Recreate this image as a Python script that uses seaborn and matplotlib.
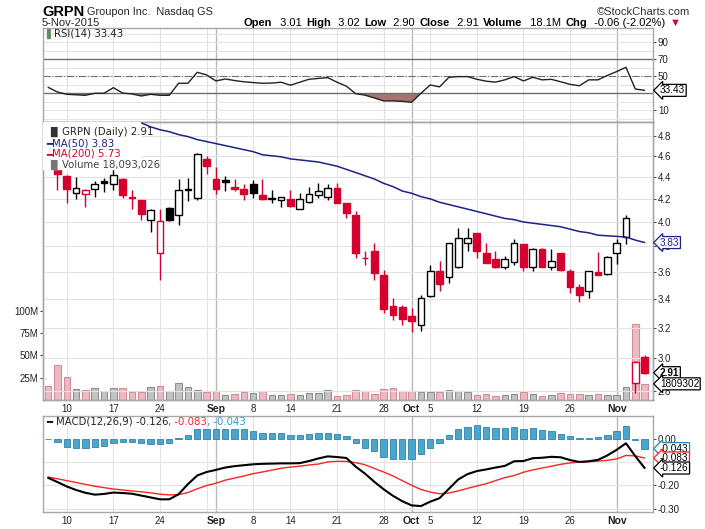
import numpy as np
import pandas as pd
import matplotlib
matplotlib.use('Agg')
import matplotlib.pyplot as plt
import matplotlib.transforms as mtrans
import matplotlib.ticker as mticker
from matplotlib.patches import Rectangle
import seaborn as sns

# trading days counted from Mon 10 Aug 2015 (= 0); -2 is 6 Aug, 62 is 5 Nov
days = list(range(-2, 63))

opens = [4.62, 4.48,
         4.41, 4.25, 4.245, 4.29, 4.36, 4.33, 4.38, 4.215, 4.19, 4.02,
         3.75, 4.12, 4.06, 4.28, 4.21, 4.57, 4.38, 4.37, 4.31, 4.29,
         4.33, 4.235, 4.20, 4.19, 4.20, 4.115, 4.17, 4.235, 4.215, 4.295,
         4.165, 4.06, 3.71, 3.765, 3.58, 3.35, 3.34, 3.28, 3.22, 3.42,
         3.605, 3.565, 3.635, 3.83, 3.905, 3.745, 3.70, 3.64, 3.675, 3.82,
         3.64, 3.78, 3.635, 3.75, 3.61, 3.49, 3.455, 3.60, 3.585, 3.75,
         3.875, 2.85, 3.01]
highs = [4.70, 4.49,
         4.42, 4.40, 4.285, 4.36, 4.39, 4.475, 4.39, 4.28, 4.19, 4.115,
         4.115, 4.13, 4.38, 4.39, 4.63, 4.60, 4.49, 4.41, 4.38, 4.33,
         4.37, 4.38, 4.28, 4.22, 4.28, 4.25, 4.31, 4.34, 4.33, 4.34,
         4.165, 4.09, 3.76, 3.83, 3.615, 3.41, 3.355, 3.335, 3.43, 3.65,
         3.68, 3.83, 3.95, 3.95, 3.905, 3.83, 3.765, 3.72, 3.86, 3.82,
         3.79, 3.785, 3.78, 3.75, 3.625, 3.51, 3.61, 3.755, 3.72, 3.86,
         4.06, 2.98, 3.02]
lows = [4.52, 4.28,
        4.16, 4.20, 4.13, 4.22, 4.265, 4.28, 4.21, 4.115, 4.02, 3.92,
        3.54, 4.01, 3.975, 4.18, 4.19, 4.425, 4.24, 4.27, 4.27, 4.19,
        4.21, 4.19, 4.165, 4.13, 4.13, 4.11, 4.16, 4.205, 4.19, 4.16,
        4.03, 3.71, 3.65, 3.54, 3.30, 3.255, 3.22, 3.17, 3.175, 3.415,
        3.46, 3.52, 3.63, 3.76, 3.705, 3.665, 3.63, 3.62, 3.65, 3.61,
        3.61, 3.64, 3.615, 3.61, 3.44, 3.375, 3.41, 3.58, 3.58, 3.66,
        3.82, 2.79, 2.90]
closes = [4.55, 4.43,
          4.29, 4.30, 4.28, 4.33, 4.34, 4.42, 4.235, 4.21, 4.065, 4.10,
          4.005, 4.02, 4.275, 4.29, 4.62, 4.50, 4.29, 4.35, 4.29, 4.245,
          4.25, 4.20, 4.21, 4.215, 4.14, 4.195, 4.24, 4.27, 4.295, 4.165,
          4.08, 3.745, 3.705, 3.595, 3.33, 3.285, 3.26, 3.245, 3.41, 3.61,
          3.51, 3.825, 3.865, 3.87, 3.76, 3.67, 3.635, 3.70, 3.825, 3.64,
          3.78, 3.64, 3.68, 3.615, 3.485, 3.43, 3.605, 3.58, 3.715, 3.83,
          4.03, 2.975, 2.91]
volume_m = [15.7, 39.0,
            25.5, 12.3, 11.2, 13.0, 10.0, 13.0, 13.0, 9.3, 9.3, 14.2,
            15.7, 10.0, 18.6, 14.2, 10.8, 8.9, 10.0, 5.2, 6.3, 8.9,
            7.8, 10.0, 5.6, 5.6, 6.7, 5.6, 7.8, 7.5, 10.8, 4.5,
            5.6, 10.8, 10.0, 7.0, 12.3, 13.0, 10.0, 10.0, 8.6, 9.3,
            9.3, 11.2, 10.0, 9.3, 5.6, 6.7, 4.5, 5.6, 6.7, 9.3,
            6.7, 4.5, 5.6, 8.2, 7.0, 7.0, 5.6, 6.7, 5.6, 5.6,
            14.5, 85.0, 18.09]
ma50 = [np.nan] * 8 + [4.98, 4.96, 4.93, 4.89,
        4.86, 4.84, 4.81, 4.79, 4.76, 4.74, 4.72, 4.70, 4.68, 4.66,
        4.64, 4.61, 4.60, 4.59, 4.57, 4.56, 4.55, 4.54, 4.52, 4.50,
        4.47, 4.44, 4.41, 4.38, 4.34, 4.31, 4.27, 4.25, 4.22, 4.20,
        4.17, 4.15, 4.13, 4.11, 4.09, 4.07, 4.05, 4.03, 4.02, 4.00,
        3.99, 3.98, 3.97, 3.96, 3.94, 3.92, 3.91, 3.89, 3.885, 3.88,
        3.875, 3.85, 3.83]
rsi = [37.0, 31.5,
       28.8, 28.2, 27.6, 30.0, 30.0, 36.6, 30.2, 29.2, 26.8, 28.8,
       27.6, 27.6, 41.8, 41.8, 54.7, 51.6, 44.5, 46.8, 45.0, 43.5,
       42.6, 41.8, 42.0, 43.0, 39.5, 43.0, 46.5, 47.5, 48.4, 43.0,
       38.4, 29.5, 27.8, 24.5, 21.0, 21.0, 20.5, 19.4, 30.0, 39.8,
       37.5, 48.8, 49.6, 49.6, 46.5, 44.2, 43.1, 45.8, 49.6, 44.5,
       48.8, 45.8, 46.4, 43.5, 40.5, 38.8, 45.8, 45.8, 51.0, 55.5,
       60.6, 35.0, 33.43]
macd = [-0.168, -0.186,
        -0.205, -0.220, -0.232, -0.240, -0.237, -0.231, -0.233, -0.236, -0.244, -0.252,
        -0.260, -0.260, -0.238, -0.195, -0.158, -0.143, -0.134, -0.124, -0.118, -0.114,
        -0.110, -0.108, -0.107, -0.106, -0.106, -0.105, -0.096, -0.085, -0.076, -0.079,
        -0.083, -0.120, -0.150, -0.185, -0.217, -0.245, -0.268, -0.286, -0.289, -0.270,
        -0.255, -0.215, -0.175, -0.152, -0.139, -0.132, -0.124, -0.117, -0.097, -0.096,
        -0.084, -0.082, -0.078, -0.080, -0.092, -0.100, -0.097, -0.091, -0.072, -0.048,
        -0.020, -0.075, -0.126]
signal = [-0.165, -0.172,
          -0.180, -0.188, -0.196, -0.204, -0.210, -0.216, -0.220, -0.224, -0.228, -0.232,
          -0.238, -0.241, -0.240, -0.231, -0.215, -0.201, -0.191, -0.178, -0.169, -0.160,
          -0.150, -0.143, -0.135, -0.127, -0.122, -0.118, -0.113, -0.109, -0.100, -0.097,
          -0.098, -0.103, -0.112, -0.128, -0.143, -0.160, -0.180, -0.200, -0.218, -0.229,
          -0.236, -0.233, -0.224, -0.213, -0.203, -0.193, -0.180, -0.167, -0.158, -0.144,
          -0.134, -0.126, -0.118, -0.110, -0.104, -0.101, -0.099, -0.096, -0.093, -0.087,
          -0.072, -0.074, -0.083]
hist = [-0.002, -0.014,
        -0.034, -0.039, -0.042, -0.036, -0.030, -0.020, -0.016, -0.014, -0.019, -0.021,
        -0.021, -0.020, 0.001, 0.017, 0.043, 0.043, 0.043, 0.043, 0.043, 0.040,
        0.034, 0.026, 0.024, 0.024, 0.016, 0.016, 0.020, 0.024, 0.024, 0.018,
        0.010, -0.019, -0.039, -0.053, -0.077, -0.089, -0.089, -0.089, -0.067, -0.039,
        -0.020, 0.014, 0.040, 0.051, 0.057, 0.051, 0.044, 0.044, 0.050, 0.040,
        0.044, 0.036, 0.033, 0.021, 0.011, 0.001, 0.002, 0.007, 0.014, 0.034,
        0.054, -0.007, -0.043]

tick_days = [0, 5, 10, 16, 20, 24, 29, 34, 37, 39, 44, 49, 54, 59]
tick_labels = ['10', '17', '24', 'Sep', '8', '14', '21', '28', 'Oct', '5', '12', '19', '26', 'Nov']
week_days = [0, 5, 10, 15, 20, 24, 29, 34, 39, 44, 49, 54]
month_days = [16, 37, 59]
price_ticks = [2.8, 3.0, 3.2, 3.4, 3.6, 3.8, 4.0, 4.2, 4.4, 4.6, 4.8]

df = pd.DataFrame({'day': days, 'open': opens, 'high': highs, 'low': lows,
                   'close': closes, 'vol': np.array(volume_m) * 1e6,
                   'ma50': ma50, 'rsi': rsi, 'macd': macd, 'signal': signal,
                   'hist': hist})

sns.set_style('white')
plt.rcParams['font.family'] = ['Liberation Sans', 'DejaVu Sans']
HEAD = ['Liberation Sans', 'DejaVu Sans']
VERD = ['DejaVu Sans']
RED = '#d6002f'
GRID = '#e3e3e3'
SPINE = '#a8a8a8'

W, H = 705, 529
L, R = 43, 653
XL = (-2.55, 62.9)


def frame(top, bottom):
    return [L / W, 1 - bottom / H, (R - L) / W, (bottom - top) / H]


fig = plt.figure(figsize=(W / 100, H / 100), dpi=100)
ax_rsi = fig.add_axes(frame(28, 122))
ax_vol = fig.add_axes(frame(122, 400))
ax_px = ax_vol.twinx()
ax_macd = fig.add_axes(frame(416, 512))

for ax in (ax_rsi, ax_vol, ax_px, ax_macd):
    ax.set_xlim(*XL)
    for s in ax.spines.values():
        s.set_color(SPINE)
        s.set_linewidth(1)
    ax.tick_params(labelsize=7, colors='#222222', length=2, width=0.6, pad=1.5)

for ax in (ax_rsi, ax_vol, ax_macd):
    for d in week_days:
        ax.axvline(d, color=GRID, lw=0.8, zorder=0)
    for d in month_days:
        ax.axvline(d, color='#b9b9b9', lw=1, zorder=0)

# ---- RSI panel
for v in range(0, 101, 10):
    ax_rsi.axhline(v, color=GRID, lw=0.7, zorder=0)
ax_rsi.axhline(70, color='#6e6e6e', lw=1)
ax_rsi.axhline(30, color='#6e6e6e', lw=1)
ax_rsi.axhline(50, color='#6e6e6e', lw=0.8, ls='-.')
r = df['rsi'].to_numpy()
ax_rsi.fill_between(df['day'], r, 30, where=r < 30, interpolate=True,
                    color='#a87272', lw=0)
sns.lineplot(data=df, x='day', y='rsi', ax=ax_rsi, color='#222222', lw=1)
ax_rsi.set_ylim(-3.8, 106.8)
ax_rsi.yaxis.tick_right()
ax_rsi.set_yticks([10, 50, 70, 90])
ax_rsi.set_xticks(tick_days)
ax_rsi.tick_params(axis='x', labelbottom=False, length=0)
ax_rsi.set_xlabel('')
ax_rsi.set_ylabel('')

# ---- volume + price panel
down = df['close'].to_numpy() < np.r_[opens[0], closes[:-1]]
ax_vol.bar(df['day'], df['vol'], width=0.7,
           color=np.where(down, '#ebbac2', '#c3c3c3'),
           edgecolor=np.where(down, '#d88c99', '#8e8e8e'), lw=0.8, zorder=2)
ax_vol.set_ylim(0, 311e6)
ax_vol.set_yticks([25e6, 50e6, 75e6, 100e6], ['25M', '50M', '75M', '100M'])
ax_vol.set_xticks(tick_days, tick_labels)
ax_vol.set_xticks(days, minor=True)
ax_vol.tick_params(axis='x', which='major', length=0, pad=3)
ax_vol.tick_params(axis='x', which='minor', length=2, color='#999999')

ax_px.set_yscale('log')
ax_px.set_ylim(2.747, 4.94)
ax_px.set_yticks(price_ticks)
ax_px.yaxis.set_major_formatter(mticker.FormatStrFormatter('%.1f'))
ax_px.yaxis.set_minor_locator(mticker.NullLocator())
ax_px.grid(axis='y', color=GRID, lw=0.8)
ax_px.set_axisbelow(True)

col = np.where(down, RED, 'black')
hollow = df['close'] >= df['open']
face = np.where(hollow, 'white', col)
ax_px.vlines(df['day'], df['low'], df['high'], colors=col, lw=1, zorder=3)
ax_px.bar(df['day'], (df['close'] - df['open']).abs(),
          bottom=np.minimum(df['open'], df['close']), width=0.72,
          color=face, edgecolor=col, lw=1, zorder=4)
sns.lineplot(data=df, x='day', y='ma50', ax=ax_px, color='#20208c', lw=1.1,
             zorder=5)
ax_px.set_xlabel('')
ax_px.set_ylabel('')

# legend block of the price panel (covers the candle of 6 Aug, as in the original)
ax_px.add_patch(Rectangle((0, 1 - 47 / 278), 97 / 610, 47 / 278,
                          transform=ax_px.transAxes, color='white', zorder=6))

# ---- MACD panel
for v in (-0.1, -0.2, -0.3):
    ax_macd.axhline(v, color=GRID, lw=0.8, zorder=0)
ax_macd.bar(df['day'], df['hist'], width=0.68, color='#4ca5cc',
            edgecolor='#2a84ae', lw=0.6, zorder=2)
sns.lineplot(data=df, x='day', y='signal', ax=ax_macd, color='#ff2323',
             lw=1, zorder=3)
sns.lineplot(data=df, x='day', y='macd', ax=ax_macd, color='black', lw=1.5,
             zorder=4)
ax_macd.set_ylim(-0.3143, 0.0968)
ax_macd.yaxis.tick_right()
ax_macd.set_yticks([0.0, -0.2, -0.3], ['0.00', '-0.20', '-0.30'])
ax_macd.set_xticks(tick_days, tick_labels)
ax_macd.set_xticks(days, minor=True)
ax_macd.tick_params(axis='x', which='major', length=0, pad=3)
ax_macd.tick_params(axis='x', which='minor', length=2, color='#999999')
ax_macd.set_xlabel('')
ax_macd.set_ylabel('')

for ax in (ax_vol, ax_macd):
    for t in ax.get_xticklabels():
        if t.get_text() in ('Sep', 'Oct', 'Nov'):
            t.set_fontweight('bold')
            t.set_fontsize(7.5)


# ---- value tags on the right edge
def tag(ax, y, text, edge, tcolor='black', bold=False, trans=None):
    tr = trans if trans is not None else ax.get_yaxis_transform()
    ax.annotate(text, xy=(1.0, y), xycoords=tr, xytext=(5, 0),
                textcoords='offset points', ha='left', va='center',
                fontsize=7.2, color=tcolor,
                fontweight='bold' if bold else 'normal',
                bbox=dict(boxstyle='larrow,pad=0.1', fc='white', ec=edge,
                          lw=0.9),
                annotation_clip=False, zorder=20)


tag(ax_rsi, rsi[-1], '33.43', 'black')
tag(ax_px, ma50[-1], '3.83', '#20208c', tcolor='#20208c')
tag(ax_px, closes[-1], '2.91', 'black', bold=True)
tag(ax_px, volume_m[-1] * 1e6, '1809302', 'black',
    trans=mtrans.blended_transform_factory(ax_px.transAxes, ax_vol.transData))
tag(ax_macd, hist[-1], '-0.043', '#2a84ae')
tag(ax_macd, signal[-1], '-0.083', '#ff2323')
tag(ax_macd, macd[-1], '-0.126', 'black')


# ---- text
def fx(p):
    return p / W


def fy(p):
    return 1 - p / H


renderer = fig.canvas.get_renderer()


def runs(x, y, pieces, size, family, gap=0):
    x = fx(x)
    for txt, weight, color in pieces:
        t = fig.text(x, fy(y), txt, fontsize=size, fontweight=weight,
                     color=color, family=family, va='baseline', zorder=30)
        x += t.get_window_extent(renderer).width / W + gap / W
    return x * W


end = runs(42, 16, [('GRPN', 'bold', 'black')], 10.5, HEAD)
fig.text(fx(end + 3), fy(15), 'Groupon Inc.  Nasdaq GS', fontsize=7.8,
         family=HEAD, va='baseline')
fig.text(fx(42), fy(26), '5-Nov-2015', fontsize=8, family=HEAD,
         va='baseline')
fig.text(fx(690), fy(15), '\u00a9StockCharts.com', fontsize=8,
         family=HEAD, color='#333333', ha='right', va='baseline')
runs(244, 26, [('Open', 'bold', 'black'), (' 3.01', 'normal', 'black'),
               ('High', 'bold', 'black'), (' 3.02', 'normal', 'black'),
               ('Low', 'bold', 'black'), (' 2.90', 'normal', 'black'),
               ('Close', 'bold', 'black'), (' 2.91', 'normal', 'black'),
               ('Volume', 'bold', 'black'), (' 18.1M', 'normal', 'black'),
               ('Chg', 'bold', 'black'), (' -0.06 (-2.02%)', 'normal', 'black'),
               ('\u25bc', 'normal', RED)], 8, HEAD, gap=4.3)

runs(46, 37, [('\u258c', 'normal', '#5c8f5c'),
              ('RSI(14) 33.43', 'normal', '#222222')], 7.3, VERD)
runs(46, 135, [('\u2590\u258c', 'normal', '#333333'),
               ('GRPN (Daily) 2.91', 'normal', '#222222')], 7.3, VERD)
runs(46, 146, [('\u2501', 'bold', '#20208c'),
               ('MA(50) 3.83', 'normal', '#20208c')], 7.3, VERD)
runs(46, 157, [('\u2501', 'bold', RED),
               ('MA(200) 5.73', 'normal', RED)], 7.3, VERD)
runs(46, 168, [('\u2590\u258c', 'normal', '#777777'),
               ('Volume 18,093,026', 'normal', '#444444')], 7.3, VERD)
runs(46, 425, [('\u2501 ', 'bold', 'black'),
               ('MACD(12,26,9) -0.126', 'normal', '#222222'),
               (', -0.083', 'normal', '#ff2323'),
               (', -0.043', 'normal', '#2a9ad0')], 7.3, VERD)

fig.savefig('out.png', dpi=100)
